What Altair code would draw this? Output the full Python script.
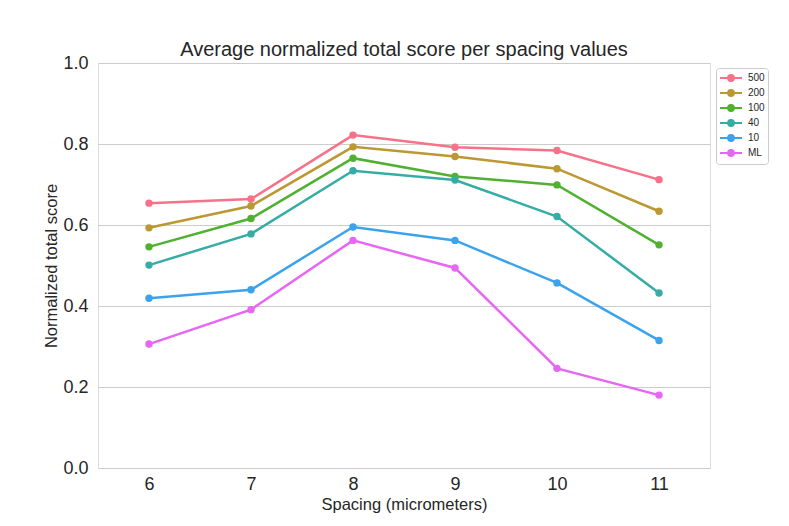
import altair as alt
import pandas as pd

spacing = [6, 7, 8, 9, 10, 11]
series_names = ["500", "200", "100", "40", "10", "ML"]
colors = ["#f77189", "#bb9832", "#50b131", "#36ada4", "#3ba3ec", "#e866f4"]

s500 = [0.654, 0.664, 0.822, 0.792, 0.784, 0.712]
s200 = [0.593, 0.647, 0.793, 0.769, 0.739, 0.634]
s100 = [0.546, 0.616, 0.765, 0.720, 0.699, 0.551]
s40 = [0.501, 0.578, 0.734, 0.711, 0.621, 0.432]
s10 = [0.419, 0.440, 0.595, 0.562, 0.457, 0.315]
sML = [0.306, 0.391, 0.562, 0.494, 0.246, 0.180]

values = [s500, s200, s100, s40, s10, sML]
rows = []
for name, vals in zip(series_names, values):
    for x, v in zip(spacing, vals):
        rows.append({"spacing": x, "score": v, "series": name})
df = pd.DataFrame(rows)

FONT = "Liberation Sans"
TXT = "#262626"

color_scale = alt.Scale(domain=series_names, range=colors)

# line segment plus concentric rings (stroked) to look like a filled dot
sym_path = (
    "M-2,0L2,0"
    "M-0.51,0A0.51,0.51 0 1 1 0.51,0A0.51,0.51 0 1 1 -0.51,0"
    "M-0.29,0A0.29,0.29 0 1 1 0.29,0A0.29,0.29 0 1 1 -0.29,0"
    "M-0.09,0A0.09,0.09 0 1 1 0.09,0A0.09,0.09 0 1 1 -0.09,0"
)

legend = alt.Legend(
    title=None,
    orient="none",
    legendX=618,
    legendY=5,
    symbolType=sym_path,
    symbolSize=121,
    symbolStrokeWidth=2.2,
    symbolOffset=5,
    labelFont=FONT,
    labelFontSize=10,
    labelColor=TXT,
    labelOffset=10,
    rowPadding=-2.5,
    strokeColor="#cccccc",
    fillColor="white",
    padding=3,
    cornerRadius=3,
)

x_enc = alt.X(
    "spacing:Q",
    scale=alt.Scale(domain=[5.5, 11.5], nice=False, zero=False),
    axis=alt.Axis(
        values=spacing,
        format="d",
        title="Spacing (micrometers)",
        grid=False,
        ticks=False,
        domain=False,
        labelFontSize=18,
        labelPadding=7,
        titleFontSize=16.5,
        titlePadding=3,
        titleFontWeight="normal",
        labelFont=FONT,
        titleFont=FONT,
        labelColor=TXT,
        titleColor=TXT,
    ),
)
y_enc = alt.Y(
    "score:Q",
    scale=alt.Scale(domain=[0, 1], nice=False),
    axis=alt.Axis(
        values=[0, 0.2, 0.4, 0.6, 0.8, 1.0],
        format=".1f",
        title="Normalized total score",
        grid=True,
        gridColor="#cccccc",
        gridWidth=1,
        ticks=False,
        domain=False,
        labelFontSize=18,
        labelPadding=10,
        titleFontSize=16.5,
        titlePadding=3,
        titleFontWeight="normal",
        labelFont=FONT,
        titleFont=FONT,
        labelColor=TXT,
        titleColor=TXT,
    ),
)

base = alt.Chart(df)
lines = base.mark_line(strokeWidth=2.5).encode(
    x=x_enc,
    y=y_enc,
    color=alt.Color("series:N", scale=color_scale, sort=series_names, legend=legend),
    detail="series:N",
)
points = base.mark_circle(size=55, opacity=1).encode(
    x=x_enc,
    y=y_enc,
    color=alt.Color("series:N", scale=color_scale, sort=series_names, legend=None),
)

chart = (
    alt.layer(lines, points)
    .properties(
        width=612,
        height=405,
        title=alt.TitleParams(
            "Average normalized total score per spacing values",
            font=FONT,
            fontSize=20,
            fontWeight="normal",
            color=TXT,
            offset=2,
            dy=8,
            frame="group",
        ),
        autosize=alt.AutoSizeParams(type="none"),
        padding={"left": 90, "top": 55, "right": 70, "bottom": 50},
    )
    .configure_view(stroke="#cccccc", strokeWidth=1)
    .configure(background="white")
)

chart.save("out.html", embed_options={"renderer": "svg", "actions": False})
